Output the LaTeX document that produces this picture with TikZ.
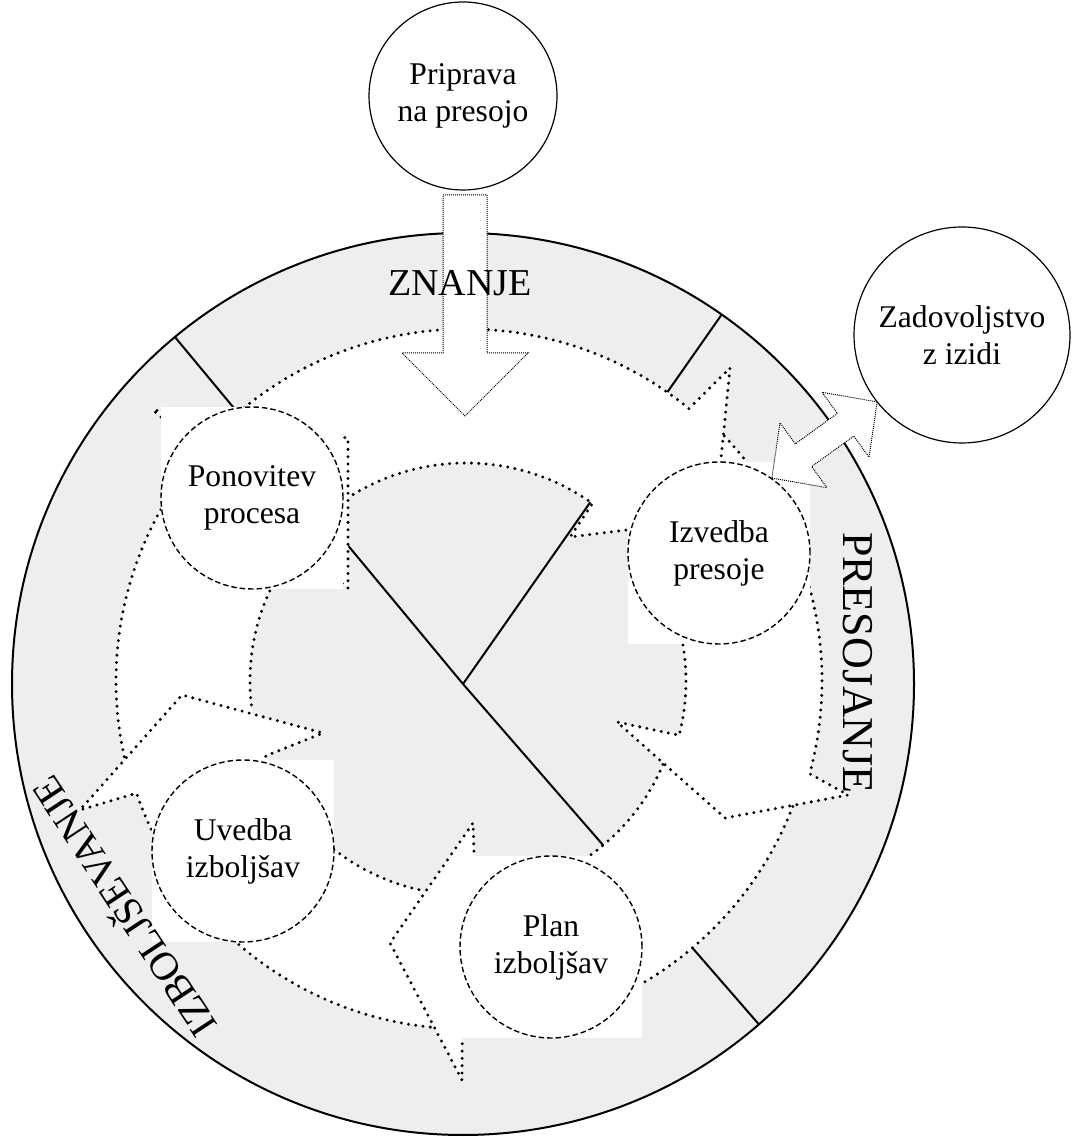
\documentclass[tikz,border=0pt]{standalone}
\usepackage{fontspec}
\setmainfont{Liberation Serif}
\usetikzlibrary{calc}
\definecolor{ringgray}{HTML}{EEEEEE}

% band pieces of the five-part cycle (outer edge, head, inner edge; tail left open)
\def\arrowA{([shift={(131.5:352)}]C) arc[start angle=131.5,end angle=50.7,radius=352] -- (730,769) -- (715,618) -- (570,600) -- ([shift={(54.5:218)}]C) arc[start angle=54.5,end angle=122.8,radius=218]}
\def\arrowB{([shift={(43.5:356)}]C) arc[start angle=43.5,end angle=-15.1,radius=356] -- (848,342) -- (725,319) -- (617,415) -- ([shift={(-14.3:220)}]C) arc[start angle=-14.3,end angle=43,radius=220]}
\def\arrowC{([shift={(-21:350)}]C) arc[start angle=-21,end angle=-90.6,radius=350] -- (462,57) -- (390,194) -- (473,314) -- ([shift={(-87.5:214)}]C) arc[start angle=-87.5,end angle=-22.6,radius=214]}
\def\arrowD{([shift={(-95.9:348)}]C) arc[start angle=-95.9,end angle=-161.2,radius=348] -- (80,327) -- (182,442) -- (323,404) -- ([shift={(-159.5:214)}]C) arc[start angle=-159.5,end angle=-101.6,radius=214]}
\def\arrowE{([shift={(192.5:350)}]C) arc[start angle=192.5,end angle=139.1,radius=350] -- (153,727) -- (348,699) -- (348,549) -- ([shift={(141.8:216)}]C) arc[start angle=141.8,end angle=188.2,radius=216]}

\newcommand{\stagenode}[3]{%
  \fill[white] ($#2+(-91,-91)$) rectangle ($#2+(91,91)$);
  \node[stage] (#1) at #2 {#3};}

\begin{document}
\begin{tikzpicture}[x=1pt,y=1pt,
  dotline/.style={line width=3.3pt, line cap=round, dash pattern=on 0pt off 7.3pt},
  finedot/.style={line width=1pt, dash pattern=on 1pt off 1pt},
  stage/.style={circle, draw, line width=1.4pt, dash pattern=on 5.5pt off 3pt,
    minimum size=182pt, inner sep=0pt, align=center,
    font=\fontsize{31.6}{37}\selectfont},
  outcome/.style={circle, draw, line width=1.2pt, fill=white, inner sep=0pt,
    align=center, font=\fontsize{31.6}{37}\selectfont},
  divider/.style={line width=2pt},
  ringlabel/.style={inner sep=0pt}
]
\useasboundingbox (0,0) rectangle (1071,1137);
\coordinate (O) at (463,453);
\coordinate (C) at (466,456);

% outer disc with its three sectors
\fill[ringgray] (O) circle[radius=451];
\draw[divider] (O) -- ++(129.7:451);
\draw[divider] (O) -- ++(55:451);
\draw[divider] (O) -- ++(-49:451);
\draw[line width=2pt] (O) circle[radius=451];

% cycle band: white fills first, dotted outlines after
\fill[white] \arrowA -- cycle;
\fill[white] \arrowB -- cycle;
\fill[white] \arrowC -- cycle;
\fill[white] \arrowD -- cycle;
\fill[white] \arrowE -- cycle;
\draw[dotline] \arrowA;
\draw[dotline] \arrowB;
\draw[dotline] \arrowC;
\draw[dotline] \arrowD;
\draw[dotline] \arrowE;

% stages of the cycle
\stagenode{pon}{(252,639)}{Ponovitev\\procesa}
\stagenode{izv}{(719,584)}{Izvedba\\presoje}
\stagenode{uve}{(243,286)}{Uvedba\\izboljšav}
\stagenode{plan}{(551,190)}{Plan\\izboljšav}

% preparation feeding into the ring
\node[outcome, minimum size=188pt] (prep) at (463,1041) {Priprava\\na presojo};
\draw[finedot, fill=white] (443,942) -- (487,942) -- (487,784) -- (528,784)
  -- (465,721) -- (402,784) -- (443,784) -- cycle;

% outcome linked both ways to the ring
\node[outcome, minimum size=216pt] (sat) at (962,802) {Zadovoljstvo\\z izidi};
\draw[finedot, fill=white, shift={(824.5,697)}, rotate=35.9]
  (65,0) -- (26,40) -- (26,14) -- (-26,14) -- (-26,40) -- (-65,0)
  -- (-26,-40) -- (-26,-14) -- (26,-14) -- (26,-40) -- cycle;

% sector labels
\node[ringlabel, anchor=base, font=\fontsize{38}{38}\selectfont] (znanje) at (460,841) {ZNANJE};
\node[ringlabel, anchor=base, rotate=-90, font=\fontsize{44}{44}\selectfont] (presojanje) at (843,474) {PRESOJANJE};
\node[ringlabel, rotate=123.4, font=\fontsize{40}{40}\selectfont] (izboljsevanje) at (121.5,228.5) {IZBOLJŠEVANJE};
\end{tikzpicture}
\end{document}
